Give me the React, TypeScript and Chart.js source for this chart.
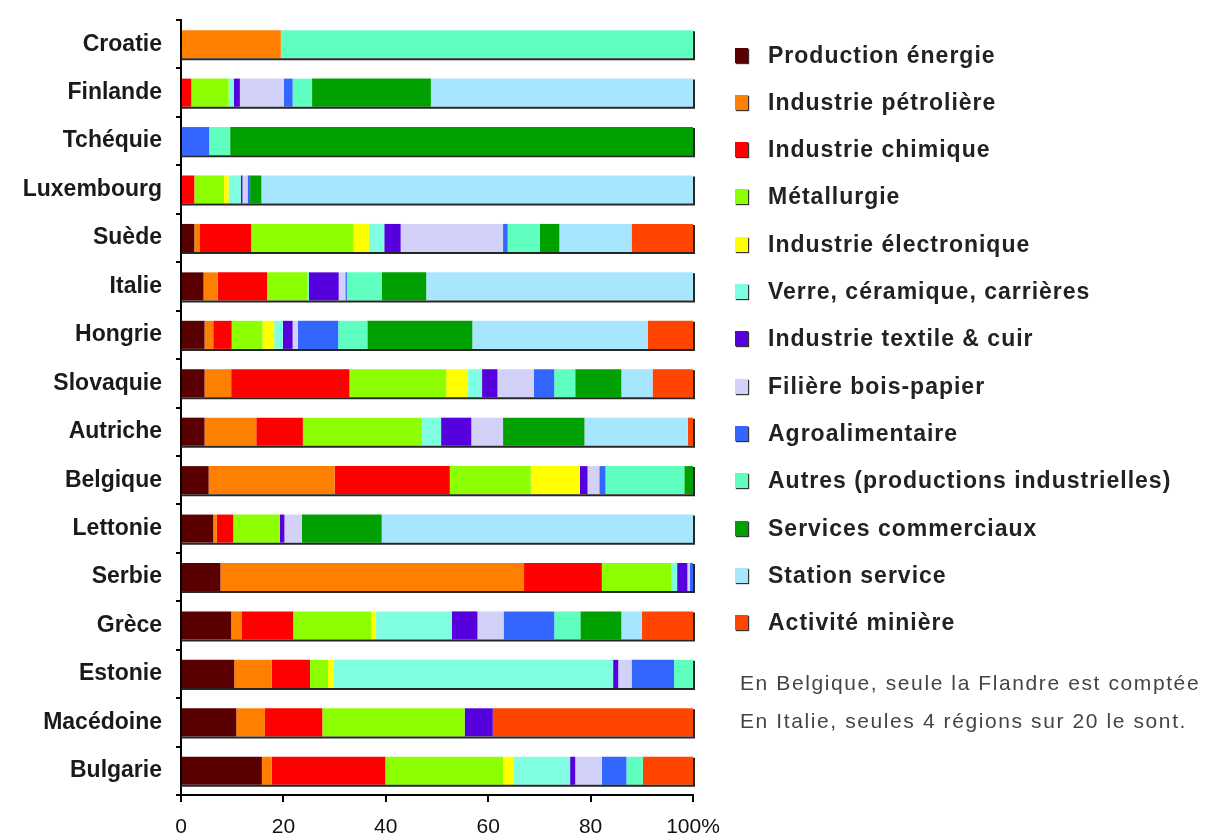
import React, { useEffect, useRef } from "react";
import { Chart, registerables } from "chart.js";

Chart.register(...registerables);

const countries = [
  "Croatie", "Finlande", "Tchéquie", "Luxembourg", "Suède", "Italie", "Hongrie", "Slovaquie",
  "Autriche", "Belgique", "Lettonie", "Serbie", "Grèce", "Estonie", "Macédoine", "Bulgarie",
];

const seriesNames = [
  "Production énergie", "Industrie pétrolière", "Industrie chimique", "Métallurgie",
  "Industrie électronique", "Verre, céramique, carrières", "Industrie textile & cuir",
  "Filière bois-papier", "Agroalimentaire", "Autres (productions industrielles)",
  "Services commerciaux", "Station service", "Activité minière",
];

const seriesColors = [
  "#5a0000", "#ff8000", "#ff0000", "#8cff00", "#ffff00", "#7fffe0", "#5500dd",
  "#d2d2f8", "#3366ff", "#5fffc0", "#00a000", "#a8e6ff", "#ff4500",
];

const productionEnergie = [0, 0, 0, 0, 2.6, 4.4, 4.6, 4.6, 4.6, 5.4, 6.3, 7.7, 9.8, 10.4, 10.8, 15.8];
const industriePetroliere = [19.5, 0, 0, 0, 1.0, 2.8, 1.7, 5.2, 10.1, 24.6, 0.7, 59.3, 2.0, 7.3, 5.6, 1.9];
const industrieChimique = [0, 2.0, 0, 2.6, 10.1, 9.6, 3.6, 23.1, 9.1, 22.5, 3.2, 15.2, 10.1, 7.5, 11.2, 22.2];
const metallurgie = [0, 7.3, 0, 5.8, 20, 7.9, 6.0, 18.9, 23.2, 15.8, 9.1, 13.6, 15.2, 3.5, 27.8, 23.0];
const industrieElectronique = [0, 0, 0, 0.9, 3.0, 0, 2.3, 4.2, 0, 9.6, 0, 0, 0.9, 1.1, 0, 2.0];
const verreCeramique = [0, 1.0, 0, 2.4, 3.0, 0.3, 1.7, 2.8, 3.8, 0, 0, 1.1, 14.9, 54.6, 0, 11.1];
const textileCuir = [0, 1.2, 0, 0.3, 3.2, 5.8, 1.9, 3.0, 5.9, 1.5, 0.9, 2.0, 5.0, 1.0, 5.5, 1.0];
const boisPapier = [0, 8.6, 0, 1.0, 20, 1.3, 1.0, 7.1, 6.2, 2.3, 3.4, 0.5, 5.1, 2.6, 0, 5.2];
const agroalimentaire = [0, 1.7, 5.5, 0.5, 0.9, 0.3, 7.9, 4.0, 0, 1.2, 0, 0.6, 9.9, 8.3, 0, 4.8];
const autres = [80.5, 3.8, 4.1, 0, 6.3, 6.8, 5.7, 4.1, 0, 15.4, 0, 0, 5.1, 3.7, 0, 3.2];
const servicesCommerciaux = [0, 23.2, 90.4, 2.2, 3.8, 8.7, 20.5, 9.0, 15.9, 1.7, 15.6, 0, 8.0, 0, 0, 0];
const stationService = [0, 51.2, 0, 84.3, 14.1, 52.1, 34.3, 6.1, 20.2, 0, 60.8, 0, 4.0, 0, 0, 0];
const activiteMiniere = [0, 0, 0, 0, 12.0, 0, 8.8, 7.9, 1.0, 0, 0, 0, 10.0, 0, 39.1, 9.8];

const seriesValues = [
  productionEnergie, industriePetroliere, industrieChimique, metallurgie, industrieElectronique,
  verreCeramique, textileCuir, boisPapier, agroalimentaire, autres, servicesCommerciaux,
  stationService, activiteMiniere,
];

const xTicks = [0, 20, 40, 60, 80, 100];

const notes = [
  "En Belgique, seule la Flandre est comptée",
  "En Italie, seules 4 régions sur 20 le sont.",
];

const FONT = "'Liberation Sans', Arial, Helvetica, sans-serif";

const barShadow = {
  id: "barShadow",
  afterDatasetsDraw(chart: any) {
    const ctx = chart.ctx;
    const xs = chart.scales.x;
    const metas = chart.getSortedVisibleDatasetMetas();
    if (!metas.length) return;
    const x0 = xs.getPixelForValue(0);
    const x1 = xs.getPixelForValue(100);
    ctx.save();
    ctx.strokeStyle = "#262626";
    ctx.lineWidth = 2;
    metas[0].data.forEach((el: any) => {
      const p = el.getProps(["y", "height"], true);
      const top = p.y - p.height / 2;
      const bot = p.y + p.height / 2;
      ctx.beginPath();
      ctx.moveTo(x0, bot + 1);
      ctx.lineTo(x1 + 1, bot + 1);
      ctx.lineTo(x1 + 1, top + 1);
      ctx.stroke();
    });
    ctx.restore();
  },
};

export default function App() {
  const ref = useRef<HTMLCanvasElement>(null);

  useEffect(() => {
    if (!ref.current) return;
    const chart = new Chart(ref.current, {
      type: "bar",
      data: {
        labels: countries,
        datasets: seriesNames.map((name, i) => ({
          label: name,
          data: seriesValues[i],
          backgroundColor: seriesColors[i],
          borderWidth: 0,
          barPercentage: 0.58,
          categoryPercentage: 1,
        })),
      },
      options: {
        indexAxis: "y",
        responsive: false,
        animation: false,
        layout: { padding: { left: 0, right: 513, top: 20, bottom: 0 } },
        plugins: { legend: { display: false }, tooltip: { enabled: false } },
        scales: {
          x: {
            stacked: true,
            min: 0,
            max: 100,
            afterFit: (s: any) => {
              s.height = 43;
              s.paddingLeft = 0;
              s.paddingRight = 0;
            },
            afterBuildTicks: (s: any) => { s.ticks = xTicks.map((v) => ({ value: v })); },
            ticks: {
              color: "#111",
              font: { family: FONT, size: 21 },
              padding: 13,
              callback: (v: any) => (v === 100 ? "100%" : String(v)),
            },
            grid: { drawOnChartArea: false, color: "#000", lineWidth: 2, tickLength: 7 },
            border: { display: true, color: "#000", width: 2 },
          },
          y: {
            stacked: true,
            afterFit: (s: any) => {
              s.width = 181;
              s.paddingTop = 0;
              s.paddingBottom = 0;
            },
            ticks: {
              color: "#1a1a1a",
              font: { family: FONT, size: 23, weight: "bold" },
              padding: 14,
            },
            grid: { drawOnChartArea: false, color: "#000", lineWidth: 2, tickLength: 5, offset: true },
            border: { display: true, color: "#000", width: 2 },
          },
        },
      },
      plugins: [barShadow],
    } as any);
    return () => chart.destroy();
  }, []);

  return (
    <div style={{ position: "absolute", left: 0, top: 0, width: 1206, height: 838, background: "#fff" }}>
      <canvas ref={ref} width={1206} height={838} style={{ position: "absolute", left: 0, top: 0 }} />
      {seriesNames.map((name, i) => (
        <div
          key={name}
          style={{
            position: "absolute",
            left: 735,
            top: 55 + i * 47.3 - 15,
            height: 30,
            display: "flex",
            alignItems: "center",
            fontFamily: FONT,
            fontWeight: "bold",
            fontSize: 23,
            letterSpacing: 1.0,
            color: "#222",
            whiteSpace: "nowrap",
          }}
        >
          <span
            style={{
              display: "inline-block",
              width: 13,
              height: 15,
              background: seriesColors[i],
              boxShadow: "1px 1px 1px #333",
              marginRight: 20,
            }}
          />
          {name}
        </div>
      ))}
      {notes.map((t, i) => (
        <div
          key={t}
          style={{
            position: "absolute",
            left: 740,
            top: 683 + i * 38 - 14,
            height: 28,
            lineHeight: "28px",
            fontFamily: FONT,
            fontSize: 21,
            letterSpacing: 1.6,
            color: "#444",
            whiteSpace: "nowrap",
          }}
        >
          {t}
        </div>
      ))}
    </div>
  );
}
